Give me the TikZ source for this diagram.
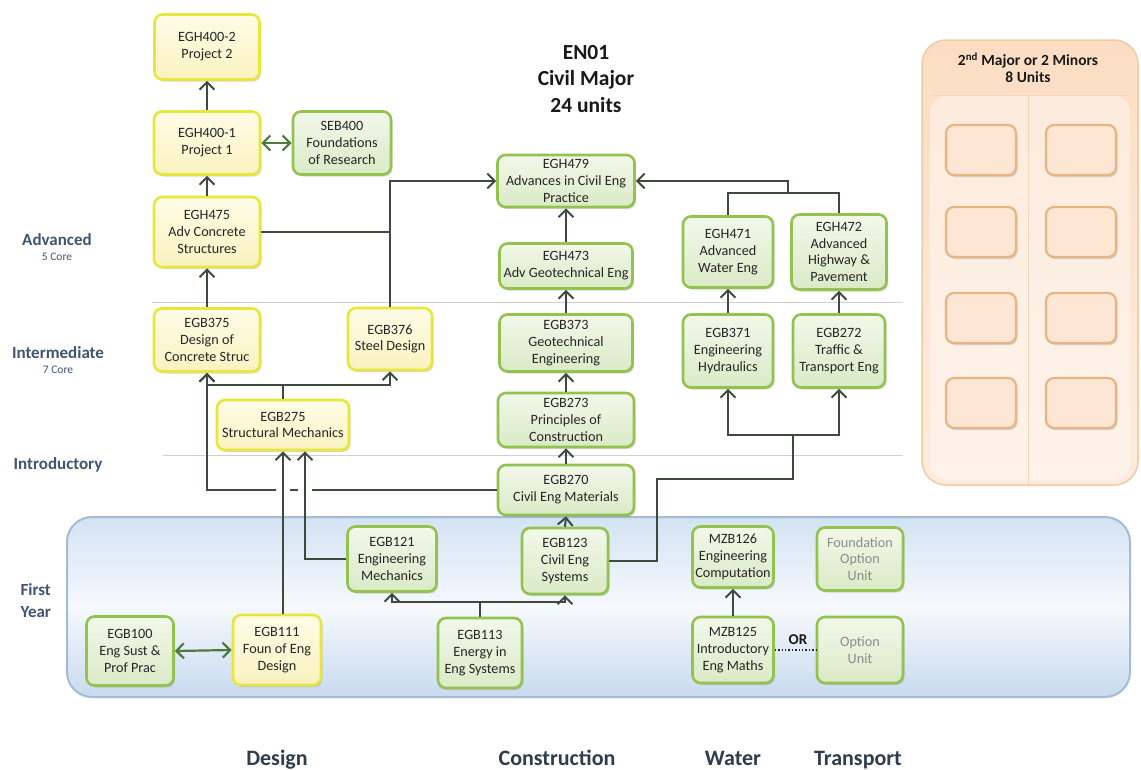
\documentclass[tikz,border=0pt]{standalone}
\usepackage{fontspec}
\setmainfont{Carlito}
\usetikzlibrary{arrows.meta,shadows,calc}
\definecolor{gbord}{HTML}{93C24F}
\definecolor{gfillT}{HTML}{F2F8EA}
\definecolor{gfillB}{HTML}{DAEAC6}
\definecolor{ybord}{HTML}{E8E63A}
\definecolor{yfillT}{HTML}{FEFCE6}
\definecolor{yfillB}{HTML}{F9F2C0}
\definecolor{obord}{HTML}{E6B583}
\definecolor{ofill}{HTML}{FDE6D3}
\definecolor{lincol}{HTML}{3E4A3E}
\definecolor{dblcol}{HTML}{4F7A3F}
\definecolor{labcol}{HTML}{3F5573}
\definecolor{botcol}{HTML}{2F3D4D}
\definecolor{txtcol}{HTML}{262626}
\definecolor{sepcol}{HTML}{D0D0D0}
\definecolor{bluebord}{HTML}{A4BBD3}
\definecolor{blueT}{HTML}{D3E3F3}
\definecolor{blueM}{HTML}{F6F9FD}
\definecolor{blueB}{HTML}{C8DAEF}
\definecolor{orT}{HTML}{FCDDC3}
\definecolor{orB}{HTML}{FDEBDD}
\definecolor{orbord}{HTML}{F2CBA6}
\begin{document}
\begin{tikzpicture}[x=1pt,y=-1pt,
  font=\fontsize{14.2}{16.8}\selectfont,
  unit/.style={rounded corners=8pt, line width=2.6pt, align=center, inner sep=1.5pt, text=txtcol,
    drop shadow={opacity=0.3,shadow xshift=1.5pt,shadow yshift=-2pt}},
  gbox/.style={unit, draw=gbord, top color=gfillT, bottom color=gfillB},
  ybox/.style={unit, draw=ybord, top color=yfillT, bottom color=yfillB},
  graybox/.style={gbox, text=black!45},
  obox/.style={rounded corners=8pt, line width=2.2pt, draw=obord, fill=ofill, minimum width=70pt, minimum height=50pt,
    drop shadow={opacity=0.3,shadow xshift=1.5pt,shadow yshift=-2pt}},
  sz/.style 2 args={minimum width=#1pt, minimum height=#2pt},
  con/.style={draw=lincol, line width=2pt},
  arr/.style={-{Straight Barb[length=7.5pt,width=15pt]}},
  dbl/.style={draw=dblcol, line width=2.2pt, {Straight Barb[length=7.5pt,width=15pt]}-{Straight Barb[length=7.5pt,width=15pt]}},
  lvl/.style={font=\fontsize{17}{19}\selectfont\bfseries, text=labcol},
  lvlsub/.style={font=\fontsize{11.5}{13}\selectfont, text=labcol},
  stream/.style={font=\fontsize{22}{24}\selectfont\bfseries, text=botcol, anchor=base}
]
\useasboundingbox (0,0) rectangle (1141,769);
\fill[white] (0,0) rectangle (1141,769);

% panels
\draw[bluebord, line width=2pt, rounded corners=25pt, top color=blueT, bottom color=blueB, middle color=blueM] (67,517) rectangle (1130,697);
\draw[orbord, line width=1.5pt, rounded corners=24pt, top color=orT, bottom color=orB] (922,40) rectangle (1138,485);
\fill[white, opacity=0.4, rounded corners=18pt] (930,95) rectangle (1130,480);
\draw[obord!55, line width=0.8pt] (930,95) -- (1130,95);
\draw[obord!55, line width=0.8pt] (1028,95) -- (1028,484);

% separators
\draw[sepcol, line width=0.7pt] (152,302) -- (903,302);
\draw[sepcol, line width=0.7pt] (163,455) -- (903,455);

% labels
\node[align=center, font=\fontsize{21.5}{26.5}\selectfont\bfseries, text=black!90] (title) at (586,79) {EN01\\Civil Major\\24 units};
\node[align=center, font=\fontsize{15.5}{17}\selectfont\bfseries, text=black!90] (mtitle) at (1028,68) {2\textsuperscript{nd} Major or 2 Minors\\8 Units};
\node[lvl] (ladv) at (57,240) {Advanced};
\node[lvlsub] (ladvs) at (57,257) {5 Core};
\node[lvl] (lint) at (58,353) {Intermediate};
\node[lvlsub] (lints) at (58,370) {7 Core};
\node[lvl] (lintro) at (58,465) {Introductory};
\node[lvl, align=left, anchor=west, font=\fontsize{17}{22}\selectfont\bfseries] (lfy) at (17,601) {First\\Year};
\node[stream] (sdes) at (277,765) {Design};
\node[stream] (scon) at (557,765) {Construction};
\node[stream] (swat) at (733,765) {Water};
\node[stream] (stra) at (858,765) {Transport};

% orange units
\foreach \yy [count=\i] in {150,232,318,403}{
  \node[obox] (oa\i) at (981,\yy) {};
  \node[obox] (ob\i) at (1081,\yy) {};
}

% yellow (design) units
\node[ybox, sz={105}{65}] (p2) at (207,47) {EGH400-2\\Project 2};
\node[ybox, sz={106}{63}] (p1) at (207,143) {EGH400-1\\Project 1};
\node[gbox, sz={98}{63}] (seb) at (342,143) {SEB400\\Foundations\\of Research};
\node[ybox, sz={106}{70}] (h475) at (207,232) {EGH475\\Adv Concrete\\Structures};
\node[ybox, sz={106}{63}] (b375) at (207,340) {EGB375\\Design of\\Concrete Struc};
\node[ybox, sz={84}{62}] (b376) at (390,339) {EGB376\\Steel Design};
\node[ybox, sz={132}{50}] (b275) at (283,425) {EGB275\\Structural Mechanics};
\node[ybox, sz={88}{70}] (b111) at (277,650) {EGB111\\Foun of Eng\\Design};

% green units
\node[gbox, sz={137}{52}] (h479) at (566,181) {EGH479\\Advances in Civil Eng\\Practice};
\node[gbox, sz={133}{45}] (h473) at (566,266) {EGH473\\Adv Geotechnical Eng};
\node[gbox, sz={90}{71}] (h471) at (728,252) {EGH471\\Advanced\\Water Eng};
\node[gbox, sz={95}{75}] (h472) at (839,252) {EGH472\\Advanced\\Highway \&\\Pavement};
\node[gbox, sz={133}{57}] (b373) at (566,343) {EGB373\\Geotechnical\\Engineering};
\node[gbox, sz={90}{73}] (b371) at (728,351) {EGB371\\Engineering\\Hydraulics};
\node[gbox, sz={92}{73}] (b272) at (839,351) {EGB272\\Traffic \&\\Transport Eng};
\node[gbox, sz={136}{54}] (b273) at (566,420) {EGB273\\Principles of\\Construction};
\node[gbox, sz={136}{50}] (b270) at (566,490) {EGB270\\Civil Eng Materials};
\node[gbox, sz={89}{65}] (b121) at (392,559) {EGB121\\Engineering\\Mechanics};
\node[gbox, sz={86}{66}] (b123) at (565,561) {EGB123\\Civil Eng\\Systems};
\node[gbox, sz={87}{69}] (b100) at (130,651) {EGB100\\Eng Sust \&\\Prof Prac};
\node[gbox, sz={84}{70}] (b113) at (480,653) {EGB113\\Energy in\\Eng Systems};
\node[gbox, sz={81}{61}] (m126) at (733,557) {MZB126\\Engineering\\Computation};
\node[graybox, sz={86}{63}] (fou) at (860,559) {Foundation\\Option\\Unit};
\node[gbox, sz={81}{66}] (m125) at (733,650) {MZB125\\Introductory\\Eng Maths};
\node[graybox, sz={86}{66}] (opt) at (860,650) {Option\\Unit};

% junction coordinates
\coordinate (jW) at (788,193);
\coordinate (jT) at (793,435);
\coordinate (jT2) at (657,479);
\coordinate (jS) at (283,385);
\coordinate (jE) at (480,602);
\coordinate (gA1) at (312,490);
\coordinate (gA2) at (298,490);
\coordinate (gB1) at (290,490);
\coordinate (gB2) at (276,490);
\coordinate (cL) at (207,490);

% connectors
\draw[con,arr] (p1.north) -- (p2.south);
\draw[con,arr] (h475.north) -- (p1.south);
\draw[dbl] (p1.east) -- (seb.west);
\draw[con,arr] (b375.north) -- (h475.south);
\draw[con] (h475.east) -- (h475.east -| b376.north);
\draw[con,arr] (b376.north) |- (h479.west);
\draw[con,arr] (h473.north) -- (h479.south);
\draw[con] (h471.north) |- (jW);
\draw[con] (h472.north) |- (jW);
\draw[con,arr] (jW) |- (h479.east);
\draw[con,arr] (b373.north) -- (h473.south);
\draw[con,arr] (b273.north) -- (b373.south);
\draw[con,arr] (b270.north) -- (b273.south);
\draw[con,arr] (b123.north) -- (b270.south);
\draw[con,arr] (b371.north) -- (h471.south);
\draw[con,arr] (b272.north) -- (h472.south);
\draw[con] (b123.east) -| (jT2) -| (jT);
\draw[con,arr] (jT) -| (b371.south);
\draw[con,arr] (jT) -| (b272.south);
\draw[con] (b275.north) -- (jS);
\draw[con,arr] (jS) -| (b375.south);
\draw[con,arr] (jS) -| (b376.south);
\draw[con] (b270.west) -- (gA1);
\draw[con] (gA2) -- (gB1);
\draw[con,arr] (gB2) -- (cL) -- (b375.south);
\draw[con,arr] (b275.south |- b111.north) -- (b275.south);
\draw[con,arr] (b121.west) -| ([xshift=22pt]b275.south);
\draw[con] (b113.north) -- (jE);
\draw[con,arr] (jE) -| (b121.south);
\draw[con,arr] (jE) -| (b123.south);
\draw[dbl] (b100.east) -- (b111.west);
\draw[con,arr] (m125.north) -- (m126.south);
\draw[black!85, line width=1.4pt, dotted] (m125.east) -- (opt.west);
\node[font=\fontsize{15}{17}\selectfont\bfseries, text=black!90] (or) at (798,640) {OR};
\end{tikzpicture}
\end{document}
